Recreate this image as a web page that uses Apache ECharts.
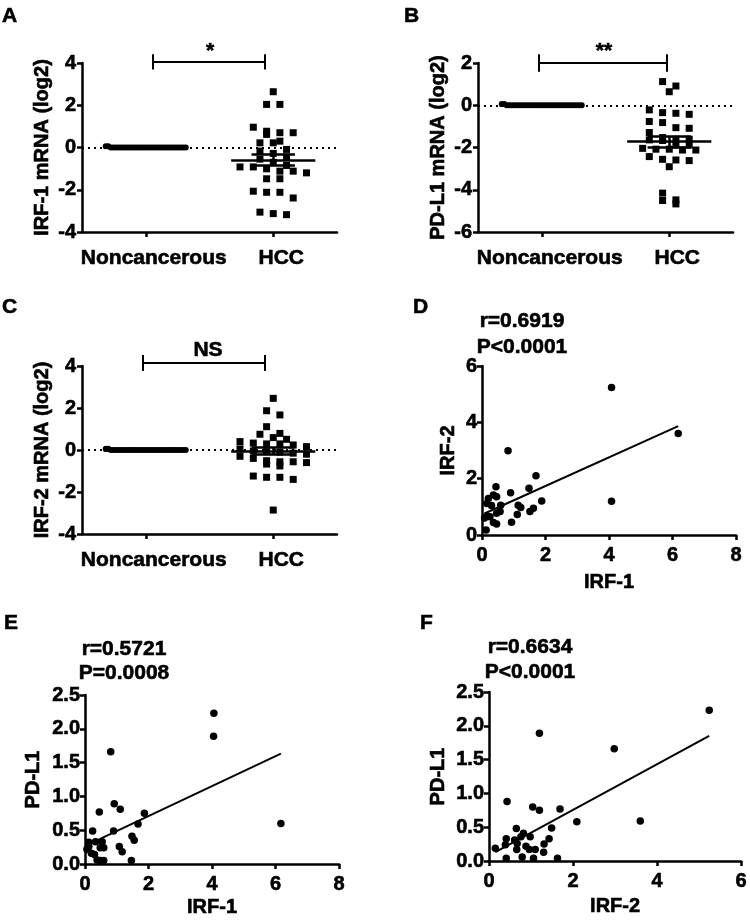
<!DOCTYPE html>
<html><head><meta charset="utf-8">
<script src="https://cdn.jsdelivr.net/npm/echarts@6/dist/echarts.min.js"></script>
<style>html,body{margin:0;padding:0;background:#fff}#c{width:750px;height:921px}</style>
</head><body><div id="c"></div>
<script>
// ---------- data ----------
const groups = ['Noncancerous', 'HCC'];

// Panel A: IRF-1 mRNA (log2)
const irf1Non = [0,0,0,0,0,0,0,0,0,0,0,0.06,0,0,0,0,0,0,0,0,0,0.06,0,0,0,0,0,0,0,0,0,0,0];
const irf1Hcc = [2.64,2.04,2.04,0.96,0.77,0.70,0.70,0.62,0.30,0.22,0.22,-0.09,-0.17,-0.28,-0.45,-0.55,-0.70,-0.85,-0.92,-0.92,-1.01,-1.12,-1.12,-1.20,-1.48,-1.48,-2.07,-2.12,-2.12,-2.39,-3.06,-3.13,-3.18];

// Panel B: PD-L1 mRNA (log2)
const pdl1Non = [0,0,0,0,0,0,0,0,0,0,0,0,0,0,0.06,0,0,0,0,0,0,0,0,0.06,0,0,0,0,0,0,0,0,0];
const pdl1Hcc = [1.12,0.91,0.64,-0.22,-0.35,-0.38,-0.43,-0.77,-0.82,-1.06,-1.09,-1.29,-1.53,-1.61,-1.61,-1.64,-1.67,-1.88,-1.88,-2.04,-2.08,-2.08,-2.12,-2.12,-2.43,-2.56,-2.59,-2.62,-2.91,-4.16,-4.48,-4.51,-4.67];

// Panel C: IRF-2 mRNA (log2)
const irf2Non = [0,0,0,0,0,0,0,0,0,0,0,0,0.06,0,0,0,0,0,0,0,0,0,0.06,0,0,0,0,0,0,0,0,0,0];
const irf2Hcc = [2.46,1.87,1.67,1.11,0.79,0.75,0.59,0.51,0.40,0.33,0.29,0.29,0.24,0.16,0.05,-0.05,-0.08,-0.10,-0.15,-0.20,-0.30,-0.40,-0.51,-0.56,-0.56,-0.60,-0.67,-0.76,-1.24,-1.30,-1.30,-1.40,-2.86];

// Panel D: IRF-1 (x) vs IRF-2 (y)
const dIrf1 = [4.08,6.18,4.08,0.82,1.70,0.44,0.90,1.48,0.36,0.46,0.20,0.15,0.59,1.88,1.14,1.22,1.62,1.51,1.11,0.57,0.46,0.15,0.25,0.36,0.46,0.93,0.13,0.08,0.30];
const dIrf2 = [5.24,3.60,1.20,2.99,2.10,1.71,1.50,1.66,1.42,1.36,1.30,1.12,1.06,1.21,1.06,0.98,0.95,0.83,0.73,0.83,0.77,0.67,0.65,0.44,0.39,0.45,0.18,0.60,1.05];

// Panel E: IRF-1 (x) vs PD-L1 (y)
const eIrf1 = [4.06,4.05,6.17,0.81,0.92,1.11,0.45,1.87,1.67,0.90,0.24,1.48,1.55,0.12,0.33,0.54,0.12,0.48,0.59,1.08,1.17,0.06,0.20,0.38,0.48,0.59,1.46,0.30];
const ePdl1 = [2.23,1.89,0.60,1.66,0.89,0.81,0.77,0.75,0.59,0.49,0.49,0.41,0.35,0.32,0.33,0.33,0.26,0.24,0.24,0.26,0.18,0.22,0.16,0.06,0.05,0.05,0.05,0.14];

// Panel F: IRF-2 (x) vs PD-L1 (y)
const fIrf2 = [5.24,2.98,3.60,1.20,0.43,1.04,1.20,1.69,2.09,1.49,0.65,0.82,1.43,0.41,0.61,0.76,0.98,0.15,0.39,0.67,1.31,0.88,0.66,0.96,1.10,1.30,0.41,0.79,1.06,1.63];
const fPdl1 = [2.23,1.66,0.59,1.89,0.88,0.80,0.75,0.77,0.58,0.49,0.48,0.41,0.33,0.33,0.31,0.36,0.36,0.19,0.24,0.26,0.25,0.22,0.17,0.17,0.17,0.13,0.04,0.06,0.04,0.04];

// Annotation texts
const sigTexts = ['*', '**', 'NS'];
const corrTexts = [['r=0.6919','P<0.0001'],['r=0.5721','P=0.0008'],['r=0.6634','P<0.0001']];
const panelLetters = ['A','B','C','D','E','F'];

// ---------- layout / style ----------
const FONT = '"Liberation Sans", Arial, Helvetica, sans-serif';
const grids = [
  {left:82, top:63, width:255, height:169},
  {left:478, top:63, width:255, height:169},
  {left:82, top:366, width:255, height:168},
  {left:482, top:366, width:254, height:169},
  {left:85, top:695, width:254, height:169},
  {left:489, top:692, width:254, height:169}
];
const AXW = 2.5;
const STROKE = 0.6;
const axisLineS = {show:true, onZero:false, lineStyle:{color:'#000', width:AXW}};
const axisTickS = {show:true, inside:false, length:5, lineStyle:{color:'#000', width:AXW}};
const labelS = (m) => ({color:'#000', fontFamily:FONT, fontWeight:'bold', fontSize:20, margin:m,
  textBorderColor:'#000', textBorderWidth:STROKE});
const nameS = {color:'#000', fontFamily:FONT, fontWeight:'bold', fontSize:20, textBorderColor:'#000', textBorderWidth:STROKE};

function meanSem(v){
  const n=v.length, m=v.reduce((a,b)=>a+b,0)/n;
  const sd=Math.sqrt(v.reduce((a,b)=>a+(b-m)*(b-m),0)/(n-1));
  return [m, sd/Math.sqrt(n)];
}
function fit(x,y){
  const n=x.length, mx=x.reduce((a,b)=>a+b,0)/n, my=y.reduce((a,b)=>a+b,0)/n;
  let sxy=0,sxx=0; for(let i=0;i<n;i++){sxy+=(x[i]-mx)*(y[i]-my); sxx+=(x[i]-mx)*(x[i]-mx);}
  const b=sxy/sxx; return [my-b*mx, b];
}
// GraphPad-like row swarm: points within ROW_H px share a row and are spread evenly
function swarm(vals, c, pxX, pxY){
  const ROW_H=7, STEP=13.3, MAXW=80;
  const idx = vals.map((v,i)=>i).sort((a,b)=>vals[b]-vals[a]);
  const rows=[]; let row=[];
  for(const i of idx){
    if(row.length && (vals[row[0]]-vals[i])*pxY > ROW_H){rows.push(row); row=[];}
    row.push(i);
  }
  if(row.length) rows.push(row);
  const out=[];
  rows.forEach(r=>{
    const n=r.length, sp = n>1 ? Math.min(STEP, MAXW/(n-1)) : 0;
    r.forEach((i,k)=>out.push([c + (k-(n-1)/2)*sp/pxX, vals[i]]));
  });
  return out;
}
const txt = (x,y,t,size,align,va,weight) => ({type:'text', x:x, y:y, silent:true,
  style:{text:t, align:align||'center', verticalAlign:va||'middle', font:(weight||'bold')+' '+size+'px '+FONT,
    fill:'#000', stroke:'#000', lineWidth:STROKE}});

const xAxes=[], yAxes=[], series=[], graphic=[];

// ---------- dot plots A, B, C ----------
const dotPanels = [
  {non:irf1Non, hcc:irf1Hcc, ymin:-4, ymax:4, name:'IRF-1 mRNA (log2)', brY:4.05, brInset:[0.057,0.065], cap:0.36, sig:[210,51]},
  {non:pdl1Non, hcc:pdl1Hcc, ymin:-6, ymax:2, name:'PD-L1 mRNA (log2)', brY:2.0, brInset:[-0.02,0.02], cap:0.42, sig:[604,51]},
  {non:irf2Non, hcc:irf2Hcc, ymin:-4, ymax:4, name:'IRF-2 mRNA (log2)', brY:4.14, brInset:[-0.02,0.065], cap:0.38, sig:[208,350]}
];
dotPanels.forEach((p,gi)=>{
  const g=grids[gi];
  const pxX=g.width/2, pxY=g.height/(p.ymax-p.ymin);
  xAxes.push({gridIndex:gi, type:'value', min:0.5, max:2.5,
    axisLine:axisLineS, axisTick:Object.assign({customValues:[1,2]},axisTickS),
    axisLabel:Object.assign(labelS(16), {customValues:[1,2], formatter:(v)=>groups[Math.round(v)-1], fontSize:21, padding:[0,0,0,16]}),
    splitLine:{show:false}});
  yAxes.push({gridIndex:gi, type:'value', min:p.ymin, max:p.ymax, interval:2,
    axisLine:axisLineS, axisTick:axisTickS, axisLabel:labelS(6), splitLine:{show:false},
    name:p.name, nameLocation:'middle', nameRotate:90, nameGap:30, nameTextStyle:nameS});
  // zero reference dotted line
  series.push({type:'line', xAxisIndex:gi, yAxisIndex:gi, data:[], silent:true,
    markLine:{silent:true, symbol:'none', label:{show:false}, data:[{yAxis:0}],
      lineStyle:{color:'#000', width:2, type:[2,4]}}});
  series.push({type:'scatter', xAxisIndex:gi, yAxisIndex:gi, symbol:'circle', symbolSize:6,
    itemStyle:{color:'#000', opacity:1}, data:swarm(p.non,1,pxX,pxY), silent:true});
  series.push({type:'scatter', xAxisIndex:gi, yAxisIndex:gi, symbol:'rect', symbolSize:7,
    itemStyle:{color:'#000', opacity:1}, data:swarm(p.hcc,2,pxX,pxY), silent:true});
  // mean +/- SEM
  const segs=[];
  [[p.non,1],[p.hcc,2]].forEach(([v,c])=>{
    const [m,s]=meanSem(v);
    segs.push({coords:[[c-0.33,m],[c+0.33,m]]});
    segs.push({coords:[[c-0.17,m+s],[c+0.17,m+s]]});
    segs.push({coords:[[c-0.17,m-s],[c+0.17,m-s]]});
    segs.push({coords:[[c,m-s],[c,m+s]]});
  });
  series.push({type:'lines', coordinateSystem:'cartesian2d', xAxisIndex:gi, yAxisIndex:gi, z:5,
    lineStyle:{color:'#000', width:2.5, opacity:1}, data:segs, silent:true});
  // significance bracket
  const x1=1+p.brInset[0], x2=2-p.brInset[1];
  series.push({type:'lines', coordinateSystem:'cartesian2d', xAxisIndex:gi, yAxisIndex:gi, clip:false,
    lineStyle:{color:'#000', width:2, opacity:1}, silent:true,
    data:[{coords:[[x1,p.brY],[x2,p.brY]]},{coords:[[x1,p.brY-p.cap],[x1,p.brY+p.cap]]},{coords:[[x2,p.brY-p.cap],[x2,p.brY+p.cap]]}]});
  graphic.push(txt(p.sig[0], p.sig[1], sigTexts[gi], 21));
});

// ---------- correlation panels D, E, F ----------
const corrPanels = [
  {x:dIrf1, y:dIrf2, xmax:8, ymax:6, yint:2, xname:'IRF-1', yname:'IRF-2', xGap:37, yGap:24, dec:0, txt:[522,321,347]},
  {x:eIrf1, y:ePdl1, xmax:8, ymax:2.5, yint:0.5, xname:'IRF-1', yname:'PD-L1', xGap:33, yGap:42, dec:1, txt:[124,649,673]},
  {x:fIrf2, y:fPdl1, xmax:6, ymax:2.5, yint:0.5, xname:'IRF-2', yname:'PD-L1', xGap:35, yGap:41, dec:1, txt:[530,647,672]}
];
corrPanels.forEach((p,k)=>{
  const gi=3+k;
  xAxes.push({gridIndex:gi, type:'value', min:0, max:p.xmax, interval:2,
    axisLine:axisLineS, axisTick:axisTickS, axisLabel:labelS(10), splitLine:{show:false},
    name:p.xname, nameLocation:'middle', nameGap:p.xGap, nameTextStyle:nameS});
  yAxes.push({gridIndex:gi, type:'value', min:0, max:p.ymax, interval:p.yint,
    axisLine:axisLineS, axisTick:axisTickS,
    axisLabel:Object.assign(labelS(5), {formatter:(v)=>v.toFixed(p.dec)}), splitLine:{show:false},
    name:p.yname, nameLocation:'middle', nameRotate:90, nameGap:p.yGap, nameTextStyle:nameS});
  series.push({type:'scatter', xAxisIndex:gi, yAxisIndex:gi, symbol:'circle', symbolSize:7.5,
    itemStyle:{color:'#000', opacity:1}, data:p.x.map((v,i)=>[v,p.y[i]]), silent:true});
  const [a,b]=fit(p.x,p.y);
  const x0=Math.min(...p.x), x1=Math.max(...p.x);
  series.push({type:'lines', coordinateSystem:'cartesian2d', xAxisIndex:gi, yAxisIndex:gi, z:5,
    lineStyle:{color:'#000', width:2, opacity:1}, silent:true,
    data:[{coords:[[x0,a+b*x0],[x1,a+b*x1]]}]});
  graphic.push(txt(p.txt[0], p.txt[1], corrTexts[k][0], 21));
  graphic.push(txt(p.txt[0], p.txt[2], corrTexts[k][1], 21));
});

// panel letters
const letterPos = [[2,6],[404,6],[2,297],[413,297],[4,613],[420,613]];
panelLetters.forEach((t,i)=>graphic.push(txt(letterPos[i][0], letterPos[i][1], t, 21, 'left', 'top', '900')));

const chart = echarts.init(document.getElementById('c'), null, {renderer:'canvas'});
chart.setOption({
  backgroundColor:'#fff', animation:false,
  grid: grids.map(g=>Object.assign({containLabel:false}, g)),
  xAxis:xAxes, yAxis:yAxes, series:series, graphic:graphic
});
</script></body></html>
